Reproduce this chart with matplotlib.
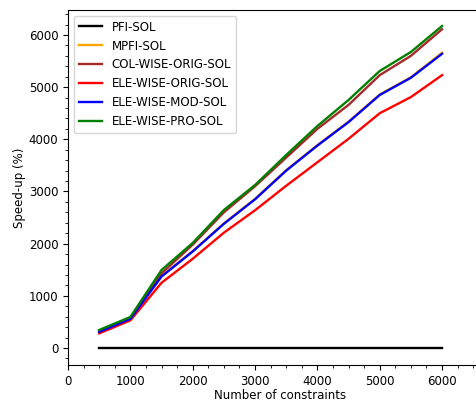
import numpy as np
import matplotlib
matplotlib.use("Agg")
import matplotlib.pyplot as plt
from matplotlib.ticker import AutoMinorLocator

# Number of constraints (x axis)
constraints = [500, 1000, 1500, 2000, 2500, 3000, 3500, 4000, 4500, 5000, 5500, 6000]

# Speed-up (%) per method
pfi_sol = [0, 0, 0, 0, 0, 0, 0, 0, 0, 0, 0, 0]
mpfi_sol = [320, 565, 1380, 1860, 2390, 2860, 3410, 3890, 4340, 4860, 5190, 5660]
col_wise_orig = [330, 580, 1430, 1980, 2600, 3100, 3650, 4200, 4660, 5230, 5600, 6110]
ele_wise_orig = [280, 530, 1250, 1710, 2210, 2640, 3110, 3560, 4010, 4500, 4810, 5230]
ele_wise_mod = [310, 560, 1370, 1850, 2380, 2850, 3400, 3880, 4330, 4850, 5180, 5640]
ele_wise_pro = [345, 594, 1495, 2013, 2645, 3124, 3700, 4255, 4754, 5310, 5674, 6172]

labels = ["PFI-SOL", "MPFI-SOL", "COL-WISE-ORIG-SOL", "ELE-WISE-ORIG-SOL",
          "ELE-WISE-MOD-SOL", "ELE-WISE-PRO-SOL"]
series = [pfi_sol, mpfi_sol, col_wise_orig, ele_wise_orig, ele_wise_mod, ele_wise_pro]
line_colors = ["black", "orange", "brown", "red", "blue", "green"]

plt.rcParams['font.size'] = 8.5

fig = plt.figure(figsize=(4.76, 4.03), dpi=100)
# axes run past the right edge, as in the cropped original
ax = fig.add_axes([0.1429, 0.0943, 0.8906, 0.8809])

for vals, lab, col in zip(series, labels, line_colors):
    ax.plot(constraints, vals, color=col, label=lab, linewidth=1.7)

ax.set_xlim(0, 6800)
ax.set_ylim(-326, 6479)
ax.set_xticks([0, 1000, 2000, 3000, 4000, 5000, 6000])
ax.xaxis.set_minor_locator(AutoMinorLocator(4))
ax.yaxis.set_minor_locator(AutoMinorLocator(5))
ax.set_xlabel("Number of constraints", labelpad=1)
ax.set_ylabel("Speed-up (%)", labelpad=2)
ax.legend(loc="upper left")

fig.savefig("out.png", dpi=100)
